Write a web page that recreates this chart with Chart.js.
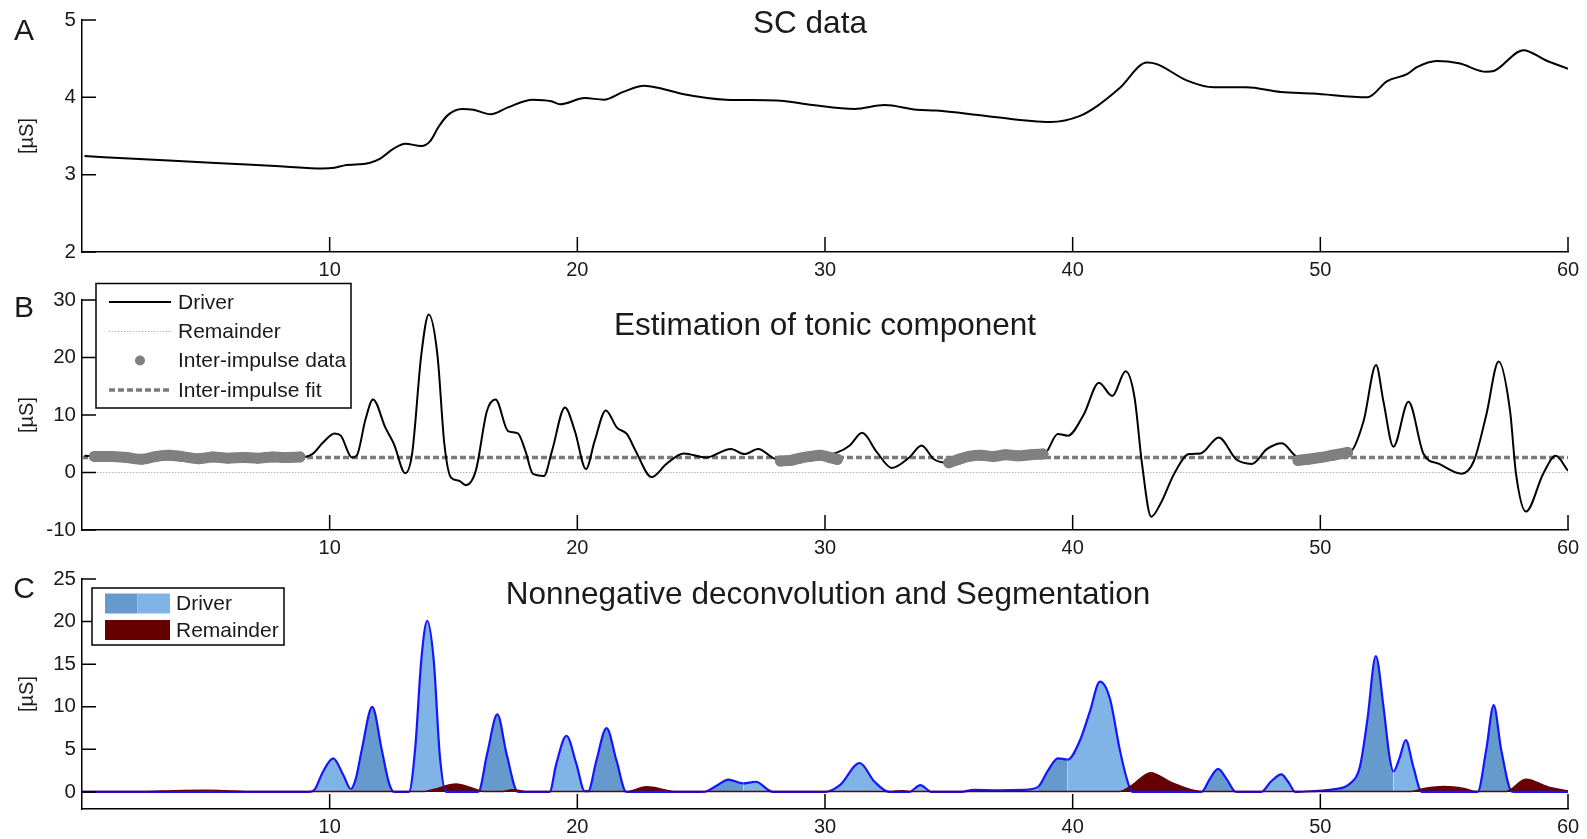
<!DOCTYPE html>
<html>
<head>
<meta charset="utf-8">
<script src="https://cdn.jsdelivr.net/npm/chart.js@4.4.1/dist/chart.umd.min.js"></script>
<style>
  html, body { margin: 0; padding: 0; background: #fff; }
  #wrap { position: relative; width: 1587px; height: 839px; }
  canvas { position: absolute; left: 0; display: block; }
</style>
</head>
<body>
<div id="wrap">
  <canvas id="panelA" width="1587" height="280" style="top:0"></canvas>
  <canvas id="panelB" width="1587" height="280" style="top:280px"></canvas>
  <canvas id="panelC" width="1587" height="279" style="top:560px"></canvas>
</div>
<script>
// ---- data (time [s], value [µS]) ----
const xTicks = [10, 20, 30, 40, 50, 60];
const yTicksA = [2, 3, 4, 5];
const yTicksB = [-10, 0, 10, 20, 30];
const yTicksC = [0, 5, 10, 15, 20, 25];

const scData = [
  [0.1, 3.24], [2.5, 3.20], [5.4, 3.15], [8.0, 3.11], [9.7, 3.08], [10.2, 3.09], [10.6, 3.12],
  [11.6, 3.15], [12.0, 3.20], [12.6, 3.34], [13.05, 3.40], [13.7, 3.37], [14.05, 3.43], [14.4, 3.62],
  [14.77, 3.77], [15.35, 3.85], [15.8, 3.84], [16.5, 3.78], [17.2, 3.87], [18.2, 3.97], [18.95, 3.95],
  [19.3, 3.91], [20.3, 3.99], [21.07, 3.97], [21.85, 4.07], [22.7, 4.15], [23.3, 4.12], [24.3, 4.04],
  [26.0, 3.97], [28.05, 3.96], [29.5, 3.90], [31.2, 3.85], [32.4, 3.90], [33.7, 3.84], [34.5, 3.83],
  [36.5, 3.76], [39.1, 3.68], [40.3, 3.76], [41.0, 3.89], [41.9, 4.12], [43.0, 4.45], [43.4, 4.43],
  [44.6, 4.22], [45.7, 4.13], [47.0, 4.13], [48.4, 4.07], [49.7, 4.05], [51.9, 4.00], [52.7, 4.21],
  [53.5, 4.30], [53.9, 4.39], [54.7, 4.47], [55.6, 4.44], [56.7, 4.33], [57.0, 4.34], [58.2, 4.61],
  [59.1, 4.48], [60, 4.37]
];

const driverB = [
  [0.1, 2.9], [0.6, 2.8], [1.5, 2.6], [2.4, 2.4], [3.3, 2.9], [4.2, 2.6], [5.1, 2.6], [6.0, 2.5],
  [7.0, 2.6], [8.0, 2.6], [8.7, 2.6], [9.3, 3.2], [9.75, 5.3], [10.2, 6.8], [10.45, 6.4], [10.9, 2.6],
  [11.1, 3.0], [11.45, 9.3], [11.75, 12.7], [12.25, 7.8], [12.6, 4.9], [13.05, -0.1], [13.33, 3.3],
  [13.7, 20.5], [14.0, 27.5], [14.35, 20.5], [14.63, 5.0], [14.9, -0.9], [15.2, -1.4], [15.5, -2.2],
  [15.9, 0.3], [16.35, 10.7], [16.7, 12.7], [17.2, 7.2], [17.6, 6.8], [17.9, 3.8], [18.2, -0.2],
  [18.65, -0.6], [18.98, 3.8], [19.5, 11.3], [19.9, 7.2], [20.35, 0.6], [20.7, 5.5], [21.15, 10.8],
  [21.6, 7.8], [22.0, 6.7], [22.35, 3.8], [23.0, -0.8], [23.6, 1.5], [24.3, 3.3], [25.2, 2.6],
  [26.2, 4.1], [26.75, 3.2], [27.3, 4.1], [28.05, 2.3], [28.8, 2.3], [29.6, 2.8], [30.5, 3.5],
  [31.0, 4.7], [31.5, 6.9], [32.1, 3.5], [32.7, 0.8], [33.4, 2.6], [33.9, 4.7], [34.4, 2.3],
  [34.95, 1.7], [36.0, 2.8], [37.0, 2.9], [38.0, 3.0], [38.85, 3.2], [39.4, 6.7], [39.8, 6.4],
  [40.45, 10.1], [41.06, 15.6], [41.6, 13.3], [42.14, 17.6], [42.5, 13.0], [42.8, 1.5], [43.17, -7.7],
  [43.55, -5.4], [44.1, -0.2], [44.7, 3.2], [45.16, 3.3], [45.9, 6.1], [46.6, 2.3], [47.24, 1.5],
  [47.85, 4.1], [48.45, 5.1], [49.0, 2.9], [49.6, 2.3], [50.3, 2.8], [51.2, 3.5], [51.75, 9.0],
  [52.25, 18.7], [52.55, 12.3], [52.95, 4.5], [53.56, 12.3], [54.17, 3.2], [54.8, 1.5], [55.7, -0.2],
  [56.2, 2.0], [56.7, 10.0], [57.2, 19.3], [57.66, 10.7], [57.9, -0.2], [58.3, -6.8], [59.0, -0.2],
  [59.5, 2.9], [60, 0.3]
];

const remainderB = [[0, 0], [60, 0]];
const fitB = [[0, 2.6], [60, 2.6]];

// inter-impulse samples, null marks a break between stretches
const interImpulse = [
  [0.5, 2.8], [1.2, 2.8], [1.8, 2.6], [2.4, 2.3], [3.0, 2.8], [3.5, 3.0], [4.0, 2.8], [4.7, 2.4],
  [5.3, 2.7], [5.9, 2.5], [6.5, 2.6], [7.1, 2.5], [7.7, 2.7], [8.2, 2.6], [8.8, 2.7], [8.9, null],
  [28.2, 2.0], [28.6, 2.1], [29.0, 2.5], [29.4, 2.8], [29.8, 3.0], [30.2, 2.6], [30.5, 2.3], [30.6, null],
  [35.0, 1.7], [35.4, 2.3], [35.8, 2.8], [36.3, 3.0], [36.8, 2.8], [37.3, 3.1], [37.8, 2.9], [38.3, 3.1],
  [38.8, 3.2], [38.9, null],
  [49.1, 2.1], [49.5, 2.3], [50.0, 2.6], [50.5, 3.0], [51.1, 3.5]
];

const driverC = [
  [0, 0], [9.2, 0], [9.4, 0.3], [9.7, 2.2], [10.14, 3.95], [10.55, 2.0], [10.85, 0.35], [11.05, 1.5],
  [11.3, 5.0], [11.72, 10.0], [12.1, 5.0], [12.4, 1.0], [12.6, 0], [13.2, 0], [13.45, 5.0], [13.7, 15.5],
  [13.94, 20.1], [14.2, 15.5], [14.45, 4.2], [14.7, 0], [16.0, 0], [16.36, 4.5], [16.77, 9.1],
  [17.14, 4.5], [17.6, 0], [18.88, 0], [19.15, 3.3], [19.56, 6.6], [19.96, 3.3], [20.3, 0.1],
  [20.44, 0.1], [20.77, 3.7], [21.18, 7.5], [21.58, 3.7], [21.98, 0], [25.1, 0], [25.6, 0.7],
  [26.1, 1.45], [26.7, 1.0], [27.2, 1.2], [27.9, 0], [30.0, 0], [30.6, 0.8], [31.4, 3.4], [32.0, 1.2],
  [32.6, 0], [33.4, 0], [33.85, 0.8], [34.3, 0], [35.5, 0], [36.0, 0.25], [37.0, 0.2], [38.0, 0.25],
  [38.6, 0.6], [39.0, 2.5], [39.4, 3.95], [39.8, 3.8], [40.3, 6.1], [40.7, 9.5], [41.1, 12.95],
  [41.5, 11.0], [41.9, 5.0], [42.2, 1.4], [42.4, 0], [45.2, 0], [45.55, 1.6], [45.87, 2.7], [46.2, 1.6],
  [46.6, 0], [47.6, 0], [48.0, 1.2], [48.43, 2.07], [48.7, 1.2], [49.0, 0], [49.7, 0.1], [50.5, 0.3],
  [51.2, 1.0], [51.6, 3.0], [51.9, 8.5], [52.24, 15.96], [52.55, 10.0], [52.8, 4.0], [52.95, 2.4],
  [53.2, 4.0], [53.45, 6.1], [53.75, 3.0], [54.1, 0], [56.35, 0], [56.7, 5.0], [57.0, 10.2], [57.3, 5.0],
  [57.75, 0], [60, 0]
];

// stretches of the driver drawn in the darker shade (segmentation)
const driverDarkRanges = [
  [10.85, 12.6], [16.0, 17.6], [20.3, 21.98], [25.1, 26.7],
  [38.6, 39.8], [45.2, 46.6], [49.7, 52.95], [56.35, 57.75]
];

const remainderC = [
  [0, 0.05], [2.5, 0.05], [3.7, 0.15], [5.0, 0.2], [6.1, 0.12], [7.0, 0.05], [13.8, 0.05], [14.2, 0.3],
  [15.1, 0.94], [15.8, 0.4], [16.2, 0.05], [16.9, 0.05], [17.4, 0.25], [18.0, 0.05], [22.0, 0.05],
  [22.8, 0.6], [24.0, 0.05], [32.7, 0.05], [33.1, 0.15], [33.4, 0.05], [41.9, 0.05], [42.4, 0.8],
  [43.15, 2.27], [44.0, 1.1], [45.2, 0.05], [53.6, 0.05], [54.2, 0.4], [55.0, 0.63], [55.8, 0.4],
  [56.3, 0.05], [57.5, 0.05], [58.3, 1.49], [59.2, 0.6], [60, 0.1]
];

// ---- styling ----
const FONT = '"Liberation Sans", Arial, Helvetica, sans-serif';
const lightBlue = '#80b3e6';
const darkBlue = '#6699cc';
const darkRed = '#660000';

Chart.defaults.font.family = FONT;
Chart.defaults.font.size = 20;
Chart.defaults.color = '#1a1a1a';

const toPoints = pairs => pairs.map(([x, y]) => ({ x, y }));

// MATLAB-style ticks pointing into the plot
const inwardTicks = {
  id: 'inwardTicks',
  afterDraw(chart) {
    const { ctx, chartArea: a, scales: { x, y } } = chart;
    ctx.save();
    ctx.strokeStyle = '#000';
    ctx.lineWidth = 1.5;
    ctx.beginPath();
    x.ticks.forEach(t => {
      const px = x.getPixelForValue(t.value);
      ctx.moveTo(px, a.bottom);
      ctx.lineTo(px, a.bottom - 15);
    });
    y.ticks.forEach(t => {
      const py = y.getPixelForValue(t.value);
      ctx.moveTo(a.left, py);
      ctx.lineTo(a.left + 14, py);
    });
    ctx.stroke();
    ctx.restore();
  }
};

const panelText = {
  id: 'panelText',
  afterDraw(chart, args, o) {
    const ctx = chart.ctx;
    ctx.save();
    ctx.fillStyle = '#1a1a1a';
    ctx.textBaseline = 'alphabetic';
    ctx.textAlign = 'center';
    ctx.font = '30px ' + FONT;
    ctx.fillText(o.letter, 24, o.letterY);
    ctx.font = '31.5px ' + FONT;
    ctx.fillText(o.title, o.titleX, o.titleY);
    ctx.restore();
  }
};

const legendBox = {
  id: 'legendBox',
  afterDraw(chart, args, o) {
    if (!o.items) return;
    const ctx = chart.ctx;
    ctx.save();
    ctx.fillStyle = '#fff';
    ctx.strokeStyle = '#000';
    ctx.lineWidth = 1.5;
    ctx.fillRect(o.left, o.top, o.width, o.height);
    ctx.strokeRect(o.left, o.top, o.width, o.height);
    ctx.font = '21px ' + FONT;
    ctx.textBaseline = 'middle';
    ctx.textAlign = 'left';
    o.items.forEach((idx, i) => {
      const ds = chart.data.datasets[idx];
      const y = o.rows[i];
      const x0 = o.sampleX0, x1 = o.sampleX1;
      ctx.save();
      if (ds.legendKind === 'line') {
        ctx.strokeStyle = ds.borderColor;
        ctx.lineWidth = ds.borderWidth;
        ctx.setLineDash(ds.borderDash || []);
        ctx.beginPath();
        ctx.moveTo(x0, y);
        ctx.lineTo(x1, y);
        ctx.stroke();
      } else if (ds.legendKind === 'dot') {
        ctx.fillStyle = ds.pointBackgroundColor;
        ctx.beginPath();
        ctx.arc((x0 + x1) / 2, y, 5, 0, Math.PI * 2);
        ctx.fill();
      } else if (ds.legendKind === 'split') {
        const mid = (x0 + x1) / 2;
        ctx.fillStyle = darkBlue;
        ctx.fillRect(x0, y - 10, mid - x0, 20);
        ctx.fillStyle = ds.backgroundColor;
        ctx.fillRect(mid, y - 10, x1 - mid, 20);
      } else if (ds.legendKind === 'swatch') {
        ctx.fillStyle = ds.backgroundColor;
        ctx.fillRect(x0, y - 10, x1 - x0, 20);
      }
      ctx.restore();
      ctx.fillStyle = '#1a1a1a';
      ctx.fillText(ds.label, o.textX, y + 1);
    });
    ctx.restore();
  }
};

function xScale(height) {
  return {
    type: 'linear',
    min: 0,
    max: 60,
    afterBuildTicks: s => { s.ticks = xTicks.map(v => ({ value: v })); },
    afterFit: s => { s.height = height; },
    grid: { display: false, drawTicks: false },
    border: { display: true, color: '#000', width: 1.5 },
    ticks: { padding: 6, maxRotation: 0, autoSkip: false }
  };
}

function yScale(min, max, tickValues) {
  return {
    type: 'linear',
    min: min,
    max: max,
    afterBuildTicks: s => { s.ticks = tickValues.map(v => ({ value: v })); },
    afterFit: s => { s.width = 82; },
    grid: { display: false, drawTicks: false },
    border: { display: true, color: '#000', width: 1.5 },
    ticks: { padding: 6, autoSkip: false, font: { size: 20.5 } },
    title: { display: true, text: '[µS]', padding: { top: 15, bottom: 0 } }
  };
}

function baseOptions(padTop, xHeight, yMin, yMax, yTickValues, text, legend) {
  return {
    responsive: false,
    animation: false,
    events: [],
    layout: { padding: { top: padTop, right: 19, left: 0, bottom: 0 } },
    elements: { point: { radius: 0 } },
    scales: { x: xScale(xHeight), y: yScale(yMin, yMax, yTickValues) },
    plugins: {
      legend: { display: false },
      tooltip: { enabled: false },
      filler: { drawTime: 'beforeDatasetsDraw' },
      panelText: text,
      legendBox: legend || {}
    }
  };
}

// ---- A: SC data ----
new Chart(document.getElementById('panelA'), {
  type: 'line',
  data: {
    datasets: [{
      label: 'SC data',
      data: toPoints(scData),
      borderColor: '#000',
      borderWidth: 2,
      cubicInterpolationMode: 'monotone',
      fill: false
    }]
  },
  options: baseOptions(20, 28, 2, 5, yTicksA,
    { letter: 'A', letterY: 40, title: 'SC data', titleX: 810, titleY: 33 }),
  plugins: [inwardTicks, panelText, legendBox]
});

// ---- B: Estimation of tonic component ----
new Chart(document.getElementById('panelB'), {
  type: 'line',
  data: {
    datasets: [
      {
        label: 'Driver',
        legendKind: 'line',
        data: toPoints(driverB),
        borderColor: '#000',
        borderWidth: 2,
        cubicInterpolationMode: 'monotone',
        order: 1
      },
      {
        label: 'Remainder',
        legendKind: 'line',
        data: toPoints(remainderB),
        borderColor: '#b3b3b3',
        borderWidth: 1.2,
        borderDash: [1.5, 1.5],
        order: 3
      },
      {
        label: 'Inter-impulse data',
        legendKind: 'dot',
        data: toPoints(interImpulse),
        borderColor: '#808080',
        borderWidth: 11,
        borderCapStyle: 'round',
        borderJoinStyle: 'round',
        pointRadius: 5.5,
        pointBackgroundColor: '#808080',
        pointBorderWidth: 0,
        spanGaps: false,
        cubicInterpolationMode: 'monotone',
        order: 0
      },
      {
        label: 'Inter-impulse fit',
        legendKind: 'line',
        data: toPoints(fitB),
        borderColor: '#7a7a7a',
        borderWidth: 3.5,
        borderDash: [6, 3],
        order: 2
      }
    ]
  },
  options: baseOptions(20, 30, -10, 30, yTicksB,
    { letter: 'B', letterY: 37, title: 'Estimation of tonic component', titleX: 825, titleY: 55 },
    { items: [0, 1, 2, 3], left: 96, top: 3.5, width: 255, height: 124.5,
      rows: [22, 51.5, 80.5, 110], sampleX0: 109, sampleX1: 171, textX: 178 }),
  plugins: [inwardTicks, panelText, legendBox]
});

// ---- C: Nonnegative deconvolution and Segmentation ----
const inDark = (a, b) => driverDarkRanges.some(([s, e]) => a >= s && b <= e);

new Chart(document.getElementById('panelC'), {
  type: 'line',
  data: {
    datasets: [
      {
        label: 'Remainder',
        legendKind: 'swatch',
        data: toPoints(remainderC),
        borderColor: darkRed,
        borderWidth: 1.5,
        backgroundColor: darkRed,
        fill: 'origin',
        cubicInterpolationMode: 'monotone'
      },
      {
        label: 'Driver',
        legendKind: 'split',
        data: toPoints(driverC),
        borderColor: '#1515ff',
        borderWidth: 2.2,
        backgroundColor: lightBlue,
        fill: 'origin',
        cubicInterpolationMode: 'monotone',
        segment: {
          backgroundColor: ctx => inDark(ctx.p0.parsed.x, ctx.p1.parsed.x) ? darkBlue : undefined
        }
      }
    ]
  },
  options: baseOptions(19, 30, -2, 25, yTicksC,
    { letter: 'C', letterY: 38, title: 'Nonnegative deconvolution and Segmentation', titleX: 828, titleY: 44 },
    { items: [1, 0], left: 92, top: 28, width: 192, height: 57,
      rows: [43.5, 70], sampleX0: 105, sampleX1: 170, textX: 176 }),
  plugins: [inwardTicks, panelText, legendBox]
});
</script>
</body>
</html>
